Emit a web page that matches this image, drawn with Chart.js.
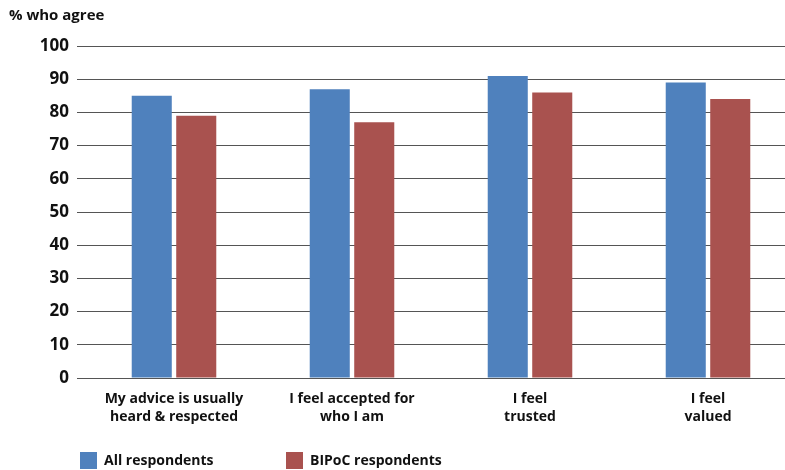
<!DOCTYPE html>
<html><head><meta charset="utf-8">
<script src="https://cdn.jsdelivr.net/npm/chart.js@4/dist/chart.umd.min.js"></script>
<style>html,body{margin:0;padding:0;background:#fff;overflow:hidden}#wrap{width:800px;height:470px;position:relative}</style>
</head><body><div id="wrap"><canvas id="c"></canvas></div>
<script>
const categories = [["My advice is usually","heard & respected"],["I feel accepted for","who I am"],["I feel","trusted"],["I feel","valued"]];
const allRespondents = [85, 87, 91, 89];
const bipocRespondents = [79, 77, 86, 84];
const seriesNames = ["All respondents", "BIPoC respondents"];
const yTicks = [0,10,20,30,40,50,60,70,80,90,100];
const axisTitle = "% who agree";
const FONT = "'Open Sans', Lato, sans-serif";
const BLUE = "#4f81bd", RED = "#a9524f";

const customLegend = {
  id: 'customLegend',
  afterDraw(chart) {
    const ctx = chart.ctx;
    ctx.save();
    ctx.font = "bold 15px " + FONT;
    ctx.fillStyle = "#111";
    ctx.textBaseline = "middle";
    ctx.textAlign = "left";
    ctx.fillText(axisTitle, 9, 16);
    const xs = [80, 286];
    chart.data.datasets.forEach((ds, i) => {
      ctx.fillStyle = ds.backgroundColor;
      ctx.fillRect(xs[i], 452, 17, 17);
      ctx.fillStyle = "#111";
      ctx.font = "bold 14px " + FONT;
      ctx.fillText(ds.label, xs[i] + 24, 461);
    });
    ctx.restore();
  }
};

new Chart(document.getElementById('c'), {
  type: 'bar',
  data: {
    labels: categories,
    datasets: [
      {label: seriesNames[0], data: allRespondents, backgroundColor: BLUE},
      {label: seriesNames[1], data: bipocRespondents, backgroundColor: RED}
    ]
  },
  options: {
    responsive: true, maintainAspectRatio: false, animation: false,
    layout: {padding: {top: 46, right: 3, left: 0, bottom: 0}},
    categoryPercentage: 0.5, barPercentage: 0.9,
    plugins: {legend: {display: false}, tooltip: {enabled: false}},
    scales: {
      x: {
        grid: {display: false, drawTicks: false},
        border: {display: false},
        ticks: {font: {family: FONT, size: 14, weight: 'bold', lineHeight: 1.28}, color: '#111', padding: 12, maxRotation: 0, autoSkip: false},
        afterFit(s) { s.height = 92; }
      },
      y: {
        min: 0, max: 100,
        afterBuildTicks(s) { s.ticks = yTicks.map(v => ({value: v})); },
        grid: {color: '#555', lineWidth: 1, tickLength: 8, drawTicks: true},
        border: {display: false},
        ticks: {font: {family: FONT, size: 17, weight: 'bold'}, color: '#111', padding: 8},
        afterFit(s) { s.width = 85; }
      }
    }
  },
  plugins: [customLegend]
});
</script></body></html>
